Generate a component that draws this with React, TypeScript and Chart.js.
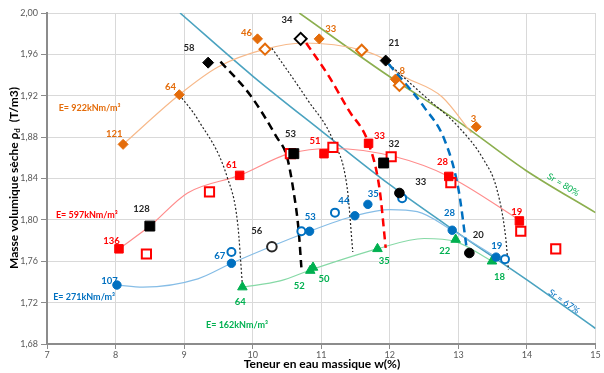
import React, { useEffect, useRef } from "react";
import { Chart, registerables } from "chart.js";
Chart.register(...registerables);

type P = [number, number];
type L = [string, number, number];

const xTicks = [7, 8, 9, 10, 11, 12, 13, 14, 15];
const yTicks = [1.68, 1.72, 1.76, 1.8, 1.84, 1.88, 1.92, 1.96, 2.0];

// E = 922 kNm/m3 (orange)
const orangeFilled: P[] = [[8.11, 1.873], [8.93, 1.921], [10.07, 1.975], [10.97, 1.975], [12.08, 1.936], [13.26, 1.89]];
const orangeHollow: P[] = [[10.18, 1.965], [11.59, 1.964], [12.14, 1.93]];
const orangeCurve: P[] = [[8.11, 1.873], [8.93, 1.921], [9.5, 1.948], [10.18, 1.965], [10.74, 1.971], [11.59, 1.964], [11.94, 1.954], [12.08, 1.944], [12.76, 1.919], [13.19, 1.884]];

// E = 597 kNm/m3 (red)
const redFilled: P[] = [[8.05, 1.772], [9.81, 1.843], [11.04, 1.864], [11.69, 1.874], [12.86, 1.842], [13.89, 1.799]];
const redHollow: P[] = [[8.45, 1.767], [9.37, 1.827], [10.55, 1.864], [11.17, 1.87], [12.02, 1.861], [12.89, 1.836], [13.91, 1.789], [14.42, 1.772]];
const redCurve: P[] = [[8.05, 1.772], [8.5, 1.794], [9.05, 1.826], [9.81, 1.843], [10.53, 1.864], [11.17, 1.869], [12.08, 1.861], [12.86, 1.842], [13.89, 1.8]];

// E = 271 kNm/m3 (blue)
const blueFilled: P[] = [[8.02, 1.737], [9.69, 1.758], [10.83, 1.789], [11.49, 1.804], [11.68, 1.815], [12.91, 1.79], [13.55, 1.764]];
const blueHollow: P[] = [[9.69, 1.769], [10.71, 1.789], [11.2, 1.807], [12.18, 1.821], [13.68, 1.762]];
const blueCurve: P[] = [[8.02, 1.737], [8.4, 1.735], [9.2, 1.743], [9.69, 1.758], [10.83, 1.789], [11.49, 1.804], [12.0, 1.81], [12.4, 1.808], [12.91, 1.79], [13.55, 1.764]];

// E = 162 kNm/m3 (green)
const greenPts: P[] = [[9.85, 1.735], [10.84, 1.751], [10.88, 1.754], [11.82, 1.772], [12.96, 1.781], [13.49, 1.76]];
const greenCurve: P[] = [[9.85, 1.735], [10.4, 1.741], [10.86, 1.752], [11.82, 1.772], [12.5, 1.782], [12.96, 1.779], [13.49, 1.76]];

// black markers
const blackDiamonds: P[] = [[9.35, 1.952], [11.94, 1.954]];
const blackHollowDiamonds: P[] = [[10.7, 1.975]];
const blackSquares: P[] = [[8.5, 1.794], [10.6, 1.864], [11.91, 1.855]];
const blackCircles: P[] = [[12.14, 1.826], [13.16, 1.768]];
const blackHollowCircles: P[] = [[10.28, 1.774]];

// saturation lines
const sr67: P[] = [[8.94, 2.0], [10, 1.939], [11, 1.886], [12, 1.834], [13, 1.787], [14, 1.742], [15, 1.695]];
const sr80: P[] = [[10.68, 2.0], [11.94, 1.941], [13.0, 1.895], [13.98, 1.848], [15.0, 1.807]];

// iso-energy (dashed) curves
const dot1: P[] = [[8.93, 1.921], [9.2, 1.897], [9.63, 1.841], [9.78, 1.797], [9.85, 1.737]];
const dashBlack: P[] = [[9.53, 1.953], [9.96, 1.921], [10.35, 1.88], [10.5, 1.861], [10.6, 1.826], [10.67, 1.79], [10.71, 1.754]];
const dot2: P[] = [[10.28, 1.966], [10.8, 1.916], [11.17, 1.877], [11.38, 1.83], [11.46, 1.769]];
const dashRed: P[] = [[10.78, 1.971], [11.1, 1.94], [11.4, 1.906], [11.69, 1.874], [11.85, 1.83], [11.94, 1.773]];
const dashBlue: P[] = [[11.98, 1.951], [12.5, 1.909], [12.8, 1.877], [13.0, 1.83], [13.12, 1.773]];
const dot3: P[] = [[11.95, 1.953], [12.5, 1.92], [13.0, 1.89], [13.37, 1.858], [13.56, 1.83], [13.69, 1.783], [13.73, 1.752]];

// labels
const orangeLabels: L[] = [["121", 7.98, 1.883], ["64", 8.8, 1.929], ["46", 9.91, 1.981], ["33", 11.14, 1.985], ["8", 12.18, 1.944], ["3", 13.22, 1.898]];
const blackLabels: L[] = [["58", 9.07, 1.966], ["34", 10.5, 1.993], ["21", 12.06, 1.971], ["53", 10.55, 1.883], ["32", 12.06, 1.873], ["128", 8.38, 1.811], ["56", 10.06, 1.789], ["33", 12.45, 1.837], ["20", 13.29, 1.785]];
const redLabels: L[] = [["61", 9.69, 1.853], ["51", 10.91, 1.876], ["33", 11.85, 1.881], ["28", 12.77, 1.856], ["19", 13.85, 1.808], ["136", 7.94, 1.78]];
const blueLabels: L[] = [["107", 7.91, 1.741], ["67", 9.52, 1.765], ["53", 10.84, 1.803], ["44", 11.33, 1.818], ["35", 11.76, 1.825], ["28", 12.87, 1.807], ["19", 13.56, 1.775]];
const greenLabels: L[] = [["64", 9.82, 1.721], ["52", 10.68, 1.736], ["50", 11.04, 1.743], ["35", 11.92, 1.76], ["22", 12.8, 1.77], ["18", 13.6, 1.745]];
const energyLabels: [string, number, number, string][] = [
  ["E= 922kNm/m³", 7.17, 1.908, "#E46C0A"],
  ["E= 597kNm/m³", 7.13, 1.805, "#FF0000"],
  ["E= 271kNm/m³", 7.09, 1.725, "#0070C0"],
  ["E= 162kNm/m³", 9.32, 1.698, "#00B050"],
];
const srLabels: [string, number, number, string, number][] = [
  ["Sr = 80%", 14.53, 1.834, "#00B050", 31],
  ["Sr = 67%", 14.54, 1.721, "#0070C0", 35],
];

const ORANGE = "#E46C0A";
const RED = "#FF0000";
const BLUE = "#0070C0";
const GREEN = "#00B050";
const FONT = "Lato, 'Liberation Sans', sans-serif";

const pts = (a: P[]) => a.map(([x, y]) => ({ x, y }));

function markers(data: P[], style: string, color: string, hollow: boolean, r: number) {
  return {
    data: pts(data),
    pointStyle: style,
    pointRadius: r,
    pointBackgroundColor: hollow ? "#ffffff" : color,
    pointBorderColor: color,
    pointBorderWidth: hollow ? 2 : 1,
    showLine: false,
    order: 0,
  };
}

function curve(data: P[], color: string, width: number, dash: number[], order: number) {
  return {
    data: pts(data),
    showLine: true,
    borderColor: color,
    borderWidth: width,
    borderDash: dash,
    pointRadius: 0,
    cubicInterpolationMode: "monotone",
    fill: false,
    order,
  };
}

const textPlugin = {
  id: "texts",
  afterDatasetsDraw(chart: any) {
    const { ctx, scales } = chart;
    const xs = scales.x, ys = scales.y;
    ctx.save();
    ctx.textBaseline = "middle";
    ctx.textAlign = "center";
    ctx.font = `bold 9.5px ${FONT}`;
    const groups: [L[], string][] = [[orangeLabels, ORANGE], [blackLabels, "#262626"], [redLabels, RED], [blueLabels, BLUE], [greenLabels, GREEN]];
    for (const [arr, col] of groups) {
      ctx.fillStyle = col;
      for (const [t, x, y] of arr) ctx.fillText(t, xs.getPixelForValue(x), ys.getPixelForValue(y));
    }
    ctx.textAlign = "left";
    ctx.font = `bold 9px ${FONT}`;
    for (const [t, x, y, col] of energyLabels) {
      ctx.fillStyle = col;
      ctx.fillText(t, xs.getPixelForValue(x), ys.getPixelForValue(y));
    }
    ctx.textAlign = "center";
    ctx.font = `9px ${FONT}`;
    for (const [t, x, y, col, ang] of srLabels) {
      ctx.save();
      ctx.translate(xs.getPixelForValue(x), ys.getPixelForValue(y));
      ctx.rotate((ang * Math.PI) / 180);
      ctx.fillStyle = col;
      ctx.fillText(t, 0, 0);
      ctx.restore();
    }
    ctx.restore();
  },
  afterDraw(chart: any) {
    const { ctx } = chart;
    ctx.save();
    ctx.fillStyle = "#000000";
    ctx.font = `bold 12px ${FONT}`;
    ctx.textAlign = "center";
    ctx.textBaseline = "middle";
    ctx.fillText("Teneur en eau massique w(%)", 322, 364);
    ctx.translate(14, 178);
    ctx.rotate(-Math.PI / 2);
    ctx.textAlign = "left";
    ctx.textBaseline = "middle";
    const p1 = "Masse volumique sèche ρ";
    const p2 = "d";
    const p3 = "  (T/m3)";
    ctx.font = `bold 12px ${FONT}`;
    const w1 = ctx.measureText(p1).width;
    const w3 = ctx.measureText(p3).width;
    ctx.font = `bold 8px ${FONT}`;
    const w2 = ctx.measureText(p2).width;
    let sx = -(w1 + w2 + w3) / 2;
    ctx.font = `bold 12px ${FONT}`;
    ctx.fillText(p1, sx, 0);
    sx += w1;
    ctx.font = `bold 8px ${FONT}`;
    ctx.fillText(p2, sx, 3);
    sx += w2;
    ctx.font = `bold 12px ${FONT}`;
    ctx.fillText(p3, sx, 0);
    ctx.restore();
  },
};

export default function App() {
  const ref = useRef<HTMLCanvasElement>(null);
  useEffect(() => {
    if (!ref.current) return;
    const chart = new Chart(ref.current, {
      type: "scatter",
      data: {
        datasets: [
          markers(blackDiamonds, "rectRot", "#000000", false, 5.5),
          markers(blackHollowDiamonds, "rectRot", "#000000", true, 6),
          markers(blackSquares, "rect", "#000000", false, 7),
          markers(blackCircles, "circle", "#000000", false, 4.8),
          markers(blackHollowCircles, "circle", "#262626", true, 4.8),
          markers(orangeFilled, "rectRot", ORANGE, false, 5),
          markers(orangeHollow, "rectRot", ORANGE, true, 5.5),
          markers(redFilled, "rect", RED, false, 6),
          markers(redHollow, "rect", RED, true, 6.5),
          markers(blueFilled, "circle", BLUE, false, 4.2),
          markers(blueHollow, "circle", BLUE, true, 4),
          markers(greenPts, "triangle", GREEN, false, 5.5),
          curve(dashBlack, "#000000", 2.5, [8, 5], 1),
          curve(dashRed, RED, 2.5, [8, 5], 1),
          curve(dashBlue, BLUE, 2.5, [8, 5], 1),
          curve(dot1, "#262626", 1.2, [2, 2], 1),
          curve(dot2, "#262626", 1.2, [2, 2], 1),
          curve(dot3, "#262626", 1.2, [2, 2], 1),
          curve(orangeCurve, "#F7B98A", 1.2, [], 2),
          curve(redCurve, "#FF8C8C", 1.2, [], 2),
          curve(blueCurve, "#86BDE6", 1.2, [], 2),
          curve(greenCurve, "#86D9A6", 1.2, [], 2),
          curve(sr67, "#4BA3C0", 1.6, [], 3),
          curve(sr80, "#8CAF4F", 1.6, [], 3),
        ] as any,
      },
      options: {
        responsive: false,
        devicePixelRatio: 1,
        animation: false,
        events: [],
        layout: { padding: { top: 13, right: 1, left: 0, bottom: 0 } },
        plugins: { legend: { display: false }, tooltip: { enabled: false }, title: { display: false } },
        scales: {
          x: {
            type: "linear",
            min: 7,
            max: 15,
            afterBuildTicks: (s: any) => { s.ticks = xTicks.map((v) => ({ value: v })); },
            afterFit: (s: any) => { s.height = 29; },
            ticks: { color: "#595959", font: { family: FONT, size: 9 }, padding: 1, maxRotation: 0, callback: (v: any) => String(v) },
            grid: { color: "#d9d9d9", lineWidth: 1, tickColor: "#8c8c8c", tickLength: 5 },
            border: { color: "#8c8c8c", width: 2 },
          },
          y: {
            type: "linear",
            min: 1.68,
            max: 2.0,
            afterBuildTicks: (s: any) => { s.ticks = yTicks.map((v) => ({ value: v })); },
            afterFit: (s: any) => { s.width = 47; },
            ticks: { color: "#595959", font: { family: FONT, size: 9 }, padding: 3, callback: (v: any) => Number(v).toFixed(2).replace(".", ",") },
            grid: { color: "#d9d9d9", lineWidth: 1, tickColor: "#8c8c8c", tickLength: 6 },
            border: { color: "#8c8c8c", width: 2 },
          },
        },
      } as any,
      plugins: [textPlugin],
    });
    return () => chart.destroy();
  }, []);
  return (
    <div style={{ position: "absolute", left: 0, top: 0, width: 604, height: 373, background: "#ffffff" }}>
      <canvas ref={ref} width={604} height={373} style={{ display: "block" }} />
    </div>
  );
}
